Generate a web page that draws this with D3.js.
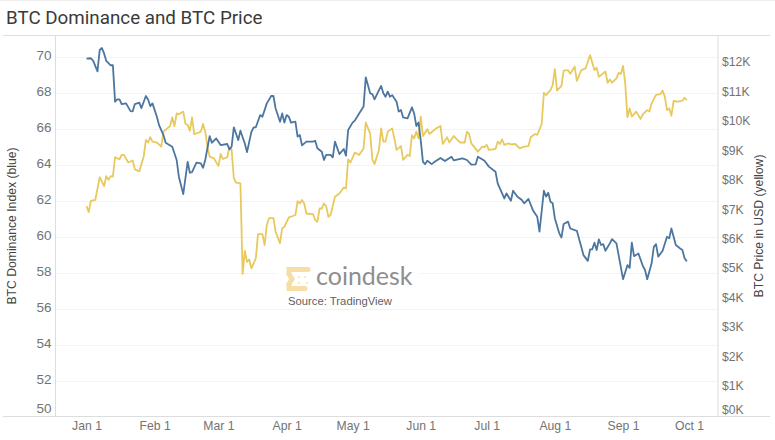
<!DOCTYPE html>
<html>
<head>
<meta charset="utf-8">
<script src="https://cdn.jsdelivr.net/npm/d3@7"></script>
<style>
  html, body { margin: 0; padding: 0; background: #fff; }
  svg { display: block; }
  text { font-family: "Liberation Sans", sans-serif; }
</style>
</head>
<body>
<div id="chart"></div>
<script>
// days counted from Jan 1 2020
const dominanceDays = [0,2,3,5,6,7,8,9,11,12,13,14,15,16,18,20,21,22,24,25,27,28,29,30,32,33,35,36,39,41,42,44,46,47,48,50,52,53,54,56,57,59,61,64,65,66,67,69,70,72,73,75,76,77,79,80,82,84,85,86,87,88,89,90,91,92,93,95,96,97,98,100,103,104,105,107,108,109,111,112,113,115,117,118,119,121,122,124,126,127,129,130,131,133,134,135,136,137,138,139,141,142,143,144,146,148,149,150,151,152,153,154,155,157,158,161,163,166,167,171,173,175,177,178,181,183,186,187,190,191,193,194,196,198,199,201,203,205,206,208,209,210,211,212,213,215,216,217,219,220,223,225,226,228,229,230,231,232,233,234,235,236,238,239,241,242,244,246,247,248,249,251,253,254,255,257,258,259,260,262,264,265,266,268,270,271,272,273];
const dominanceValues = [69.91,69.93,69.8,69.2,70.39,70.5,70.2,69.78,69.54,69.54,67.51,67.64,67.64,67.38,67.42,66.99,66.98,67.38,67.46,67.16,67.83,67.64,67.27,67.42,66.68,66.21,65.66,65.23,65.01,64.27,63.34,62.37,64.17,63.56,63.6,64.12,64.08,63.84,64.27,65.6,65.23,65.47,65.1,65.16,64.86,65.01,66.09,65.38,65.9,65.19,64.71,65.84,66.09,66.09,66.77,66.68,67.42,67.83,67.83,67.14,66.77,66.4,66.86,66.35,66.77,66.68,66.35,66.4,65.57,65.66,65.08,65.29,65.29,65.34,64.92,64.73,64.27,64.55,64.55,64.42,65.29,64.6,64.88,64.51,65.94,66.35,66.46,66.86,67.24,68.87,67.98,67.94,67.64,68.16,68.39,67.98,67.79,68.07,67.79,67.88,67.51,66.96,67.05,66.64,66.59,67.2,66.86,66.16,66.36,65.38,64.17,64.04,64.23,64.04,64.14,64.38,64.21,64.45,64.25,64.36,64.27,64.01,64.03,64.45,64.23,63.9,63.62,62.97,62.13,62.41,62,62.56,62.23,62.04,61.86,62.1,61.48,61.11,60.28,62.56,62.23,62.45,61.95,61.86,61.02,60.19,59.96,60.71,60.84,60.46,60.33,59.44,58.98,58.66,59.3,59.3,59.67,59.26,59.85,59.54,59.59,59.22,59.63,59.87,59.63,58.98,57.64,58.42,58.27,59.67,58.92,59.07,58.37,58.15,57.64,58.52,59.44,59.59,58.89,59.22,60,59.91,60.46,59.54,59.35,59.26,58.8,58.63];

const priceDays = [0,1,2,4,6,8,9,10,11,12,13,15,16,17,19,21,22,24,26,27,28,29,30,32,34,35,38,39,40,41,42,44,45,46,47,48,49,52,53,54,55,56,58,60,61,62,64,65,66,67,68,70,71,72,73,74,75,77,78,80,81,82,83,85,86,88,89,90,92,93,95,96,97,98,99,100,103,104,105,106,107,108,109,110,111,113,115,117,118,119,120,122,124,126,127,129,130,131,133,134,135,136,137,139,140,141,143,144,146,147,148,149,150,151,152,153,155,156,159,161,162,164,165,167,170,172,173,174,175,178,180,181,182,183,186,187,188,189,190,192,193,195,197,199,201,202,204,205,207,208,209,211,212,213,214,216,217,219,220,222,223,225,227,229,231,232,233,236,237,238,239,241,242,243,244,245,246,247,248,250,252,253,255,256,257,259,261,262,263,264,265,266,267,269,271,272,273];
// BTC price in thousands of USD
const priceValues = [7.15,6.95,7.33,7.36,8.13,7.83,8.17,8.04,8.17,8.15,8.81,8.74,8.89,8.89,8.63,8.7,8.4,8.33,8.83,9.4,9.31,9.49,9.34,9.31,9.17,9.68,9.87,10.16,9.87,10.3,10.27,10.36,9.94,9.91,9.71,10.16,9.59,9.68,9.94,9.68,9.17,8.83,8.77,8.51,8.92,8.75,8.81,9.15,9.06,8.1,7.95,7.92,4.85,5.63,5.26,5.34,5.04,5.38,6.2,6.2,5.83,6.51,6.74,6.74,6.28,5.89,6.4,6.45,6.77,6.79,6.85,7.32,7.24,7.36,7.24,6.9,6.88,6.68,6.62,7.07,7.07,7.24,7.15,6.79,6.85,7.47,7.58,7.78,7.75,8.74,8.63,8.97,8.89,9.11,9.99,9.62,8.74,8.58,9.06,9.79,9.34,9.34,9.68,9.79,9.45,9.06,9.19,8.72,8.89,8.85,9.56,9.45,9.68,9.45,10.19,9.53,9.76,9.6,9.79,9.87,9.26,9.49,9.31,9.53,9.31,9.31,9.68,9.6,9.28,9,9.17,9.15,9.23,9.06,9.09,9.34,9.26,9.42,9.23,9.28,9.25,9.26,9.11,9.17,9.19,9.49,9.6,9.57,9.94,11,10.92,11.09,11.26,11.8,11.07,11.23,11.75,11.77,11.64,11.89,11.4,11.77,11.83,12.28,11.77,11.85,11.54,11.72,11.34,11.45,11.34,11.49,11.68,11.64,11.91,11.32,10.17,10.47,10.19,10.36,10.11,10.27,10.41,10.36,10.64,10.93,10.95,11.07,10.87,10.41,10.47,10.22,10.72,10.7,10.73,10.83,10.75];

const monthDays = [0,31,60,91,121,152,182,213,244,274];
const monthLabels = ["Jan 1","Feb 1","Mar 1","Apr 1","May 1","Jun 1","Jul 1","Aug 1","Sep 1","Oct 1"];
const dominanceTicks = [50,52,54,56,58,60,62,64,66,68,70];
const priceTicks = [0,1,2,3,4,5,6,7,8,9,10,11,12];

const width = 775, height = 440;
const left = 55.5, right = 718, top_ = 35.5, bottom = 416.5;

const svg = d3.select("#chart").append("svg")
  .attr("width", width)
  .attr("height", height);

const x = d3.scaleLinear().domain([0, 274]).range([86.5, 689]);
const yDom = d3.scaleLinear().domain([50, 70]).range([416.5, 57]);
const yPrice = d3.scaleLinear().domain([0, 12]).range([416.7, 63.3]);

svg.append("text")
  .attr("x", 6)
  .attr("y", 24)
  .attr("fill", "#3a3a3a")
  .style("font-family", "Roboto")
  .style("font-size", "18.8px")
  .text("BTC Dominance and BTC Price");

// page edge at the very top
svg.append("line")
  .attr("x1", 0).attr("x2", width)
  .attr("y1", 0.5).attr("y2", 0.5)
  .attr("stroke", "#eee");

// gridlines
svg.append("g").selectAll("line")
  .data(dominanceTicks.filter(t => t > 50))
  .join("line")
  .attr("x1", left).attr("x2", right)
  .attr("y1", d => Math.round(yDom(d)) + 0.5)
  .attr("y2", d => Math.round(yDom(d)) + 0.5)
  .attr("stroke", "#f3f3f3");

// frame
[[3, 770, top_, top_], [3, 770, bottom, bottom], [left, left, top_, bottom], [right, right, top_, bottom]].forEach(l =>
  svg.append("line")
    .attr("x1", l[0]).attr("x2", l[1])
    .attr("y1", l[2]).attr("y2", l[3])
    .attr("stroke", "#ddd")
);

// axes
const leftAxis = svg.append("g")
  .attr("transform", `translate(${left},0)`)
  .call(d3.axisLeft(yDom).tickValues(dominanceTicks).tickSize(0).tickPadding(4));

const rightAxis = svg.append("g")
  .attr("transform", `translate(${right},0)`)
  .call(d3.axisRight(yPrice).tickValues(priceTicks).tickSize(0).tickPadding(4).tickFormat(d => "$" + d + "K"));

const bottomAxis = svg.append("g")
  .attr("transform", `translate(0,${bottom})`)
  .call(d3.axisBottom(x).tickValues(monthDays).tickSize(0).tickPadding(5).tickFormat((d, i) => monthLabels[i]));

[leftAxis, rightAxis, bottomAxis].forEach(a => {
  a.select(".domain").remove();
  a.selectAll("text")
    .attr("fill", "#737373")
    .style("font-family", "Liberation Sans")
    .style("font-size", "12.2px");
});
leftAxis.selectAll("text").style("font-size", "13.5px").attr("dy", d => d == 50 ? "-0.27em" : "0.2em");
rightAxis.selectAll("text").attr("dy", d => d == 0 ? "-0.27em" : "0.2em");

svg.append("text")
  .attr("transform", "translate(16,226) rotate(-90)")
  .attr("text-anchor", "middle")
  .attr("fill", "#444")
  .style("font-size", "12.2px")
  .text("BTC Dominance Index (blue)");

svg.append("text")
  .attr("transform", "translate(763,226) rotate(-90)")
  .attr("text-anchor", "middle")
  .attr("fill", "#444")
  .style("font-size", "12.2px")
  .text("BTC Price in USD (yellow)");

// coindesk watermark
const mark = svg.append("g");
mark.append("rect")
  .attr("x", 277).attr("y", 262)
  .attr("width", 143).attr("height", 20)
  .attr("fill", "#fff");
mark.append("path")
  .attr("d", "M308 269.5H289V274M289 284V288.5H305")
  .attr("fill", "none")
  .attr("stroke", "#f7dda6")
  .attr("stroke-width", 5)
  .attr("stroke-linecap", "round");
mark.append("path")
  .attr("d", "M289 274L292 279L289 284")
  .attr("fill", "none")
  .attr("stroke", "#f7dda6")
  .attr("stroke-width", 5)
  .attr("stroke-linecap", "round");
[[299, 277], [305, 277], [299, 283], [307, 283]].forEach(p =>
  mark.append("circle")
    .attr("cx", p[0]).attr("cy", p[1])
    .attr("r", 0.9)
    .attr("fill", "#f7dda6")
);
mark.append("text")
  .attr("x", 316)
  .attr("y", 285)
  .attr("fill", "#8e8e8e")
  .style("font-family", "Lato")
  .style("font-size", "25px")
  .text("coindesk");
mark.append("text")
  .attr("x", 288)
  .attr("y", 305)
  .attr("fill", "#5f5f5f")
  .style("font-size", "11.3px")
  .text("Source: TradingView");

// lines
const priceLine = d3.line()
  .x(d => x(d))
  .y((d, i) => yPrice(priceValues[i]));
const dominanceLine = d3.line()
  .x(d => x(d))
  .y((d, i) => yDom(dominanceValues[i]));

svg.append("path")
  .attr("d", priceLine(priceDays))
  .attr("fill", "none")
  .attr("stroke", "#e8c95e")
  .attr("stroke-width", 1.8)
  .attr("stroke-linejoin", "round");

svg.append("path")
  .attr("d", dominanceLine(dominanceDays))
  .attr("fill", "none")
  .attr("stroke", "#4c76a0")
  .attr("stroke-width", 1.8)
  .attr("stroke-linejoin", "round");
</script>
</body>
</html>
